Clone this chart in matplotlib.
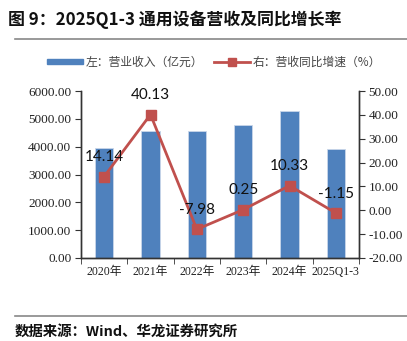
import matplotlib
matplotlib.use("Agg")
import matplotlib.pyplot as plt
from matplotlib.lines import Line2D
from matplotlib.patches import Patch
import numpy as np

categories = ["2020年", "2021年", "2022年", "2023年", "2024年", "2025Q1-3"]
revenue = [3970, 4580, 4545, 4790, 5285, 3920]
growth = [14.14, 40.13, -7.98, 0.25, 10.33, -1.15]
left_ticks = [0, 1000, 2000, 3000, 4000, 5000, 6000]
right_ticks = [-20, -10, 0, 10, 20, 30, 40, 50]

title = "图 9：2025Q1-3 通用设备营收及同比增长率"
source = "数据来源：Wind、华龙证券研究所"
legend_labels = ["左：营业收入（亿元）", "右：营收同比增速（%）"]

BLUE = "#4F81BD"
RED = "#C0504D"
serif = ["Liberation Serif", "Noto Sans CJK SC", "DejaVu Sans"]
cjk = ["Noto Sans CJK SC", "DejaVu Sans"]

W, H = 407, 341
fig = plt.figure(figsize=(W / 100, H / 100), dpi=100)
ax = fig.add_axes([81 / W, 1 - 258 / H, (359 - 81) / W, (258 - 91) / H])
ax2 = ax.twinx()

x = np.arange(len(categories))
ax.bar(x, revenue, width=0.39, color=BLUE, edgecolor="#c9d6ea", linewidth=0.6, zorder=2)
ax.set_ylim(0, 6000)
ax.set_xlim(-0.5, len(categories) - 0.5)
ax.set_yticks(left_ticks)
ax.set_yticklabels([f"{v:.2f}" for v in left_ticks], fontfamily=serif, fontsize=9.5, color="#222222")
ax.set_xticks(x)
ax.set_xticklabels(categories, fontfamily=serif, fontsize=8.5, color="#222222")
ax.set_xticks(np.arange(len(categories) + 1) - 0.5, minor=True)
ax.tick_params(axis="x", which="major", length=0, pad=6)
ax.tick_params(axis="x", which="minor", length=4, direction="out", color="#333333")
ax.tick_params(axis="y", length=4, direction="out", color="#333333", pad=3)

ax2.plot(x, growth, color=RED, linewidth=2, marker="s", markersize=7,
         markerfacecolor=RED, markeredgecolor=RED, zorder=3)
ax2.set_ylim(-20, 50)
ax2.set_yticks(right_ticks)
ax2.set_yticklabels([f"{v:.2f}" for v in right_ticks], fontfamily=serif, fontsize=9.5, color="#222222")
ax2.tick_params(axis="y", length=4, direction="out", color="#333333", pad=3)

for xi, g in zip(x, growth):
    ax2.annotate(f"{g:.2f}", (xi, g), xytext=(0, 14), textcoords="offset points",
                 ha="center", va="center", fontsize=11, fontfamily=["Lato", "DejaVu Sans"],
                 color="#111111", zorder=5)

for a in (ax, ax2):
    a.spines["top"].set_visible(False)
    for s in ("left", "right", "bottom"):
        a.spines[s].set_color("#333333")
        a.spines[s].set_linewidth(1.0)

# Legend
handles = [Patch(facecolor=BLUE, edgecolor=BLUE),
           Line2D([0], [0], color=RED, linewidth=2, marker="s", markersize=6)]
fig.legend(handles, legend_labels, loc="center", bbox_to_anchor=(214 / W, 1 - 62 / H),
           ncol=2, frameon=False, handlelength=3.0, handleheight=0.3,
           columnspacing=1.0, handletextpad=0.2,
           prop={"family": cjk, "size": 8.5}, labelcolor="#444444")

# Title and rules
fig.text(8 / W, 1 - 20 / H, title, fontsize=12.2, fontweight="bold", fontfamily=cjk,
         ha="left", va="center", color="#111111")
fig.add_artist(Line2D([15 / W, 1], [1 - 39 / H] * 2, color="#888888", linewidth=1.2))
fig.add_artist(Line2D([15 / W, 1], [1 - 316 / H] * 2, color="#888888", linewidth=1.2))
fig.text(15 / W, 1 - 332 / H, source, fontsize=10.4, fontweight="bold", fontfamily=cjk,
         ha="left", va="center", color="#111111")

fig.savefig("out.png", dpi=100)
